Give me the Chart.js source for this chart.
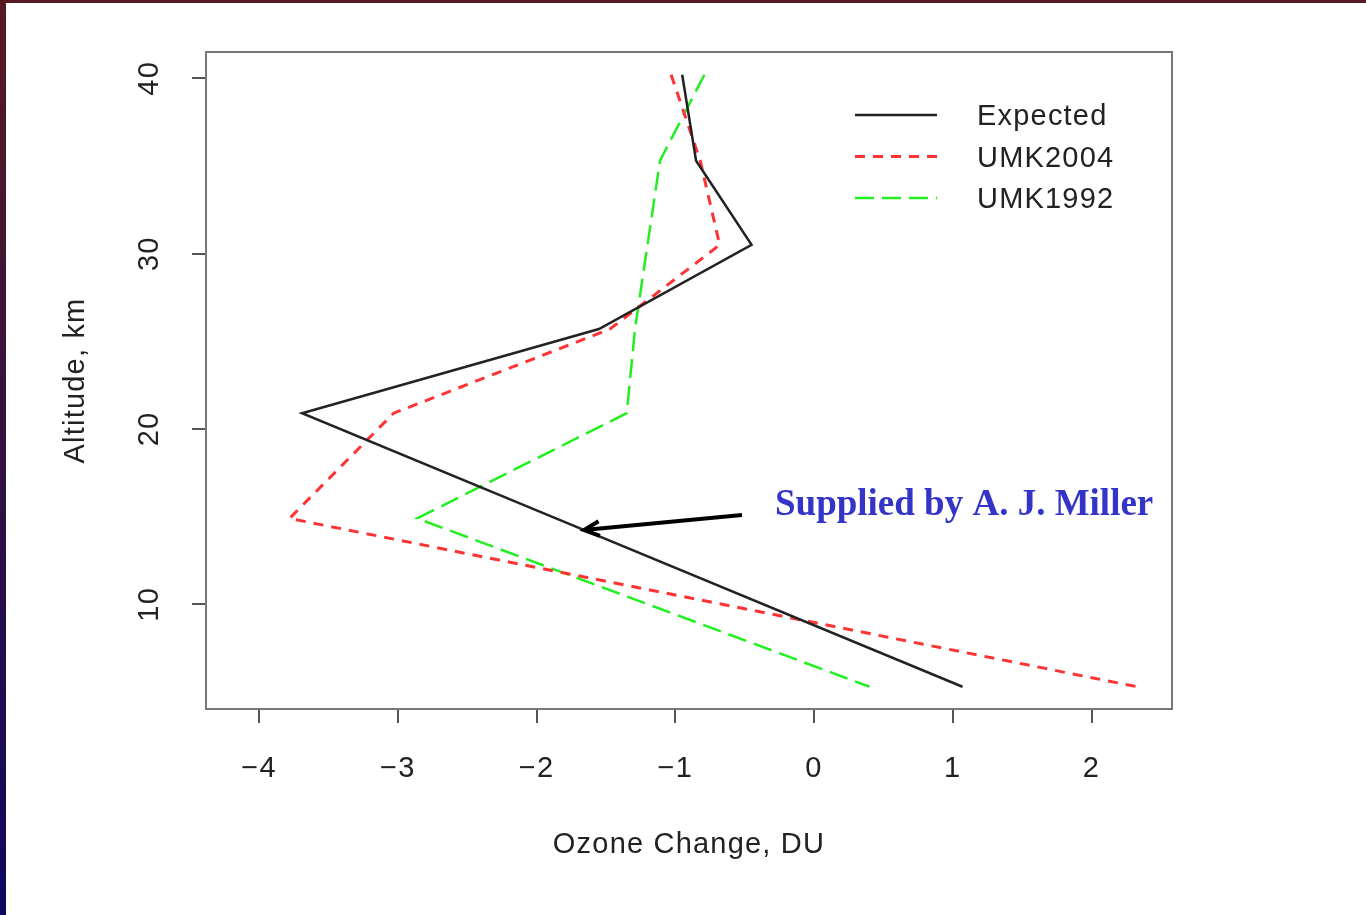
<!DOCTYPE html>
<html lang="en">
  <head>
    <meta charset="utf-8" />
    <title>Ozone change profile</title>
    <style>
      * {
        margin: 0;
        padding: 0;
      }
      body {
        width: 1366px;
        height: 915px;
        background: #fff;
        overflow: hidden;
        position: relative;
      }
      .leftBar {
        position: absolute;
        left: 0;
        top: 0;
        width: 6px;
        height: 915px;
        background: linear-gradient(#581a22, #0e0860);
        z-index: 2;
      }
      .topBar {
        position: absolute;
        left: 0;
        top: 0;
        width: 1366px;
        height: 3px;
        background: #561a20;
        z-index: 2;
      }
      .chartBox {
        position: absolute;
        left: 0;
        top: 0;
      }
    </style>
  </head>
  <body>
    <div class="leftBar"></div>
    <div class="topBar"></div>
    <div class="chartBox">
      <canvas id="myChart" width="1366" height="915"></canvas>
    </div>

    <script src="https://cdn.jsdelivr.net/npm/chart.js@4.4.0/dist/chart.umd.min.js"></script>

    <script>
      // data block
      const altitude = [40.2, 35.3, 30.5, 25.7, 20.9, 14.9, 5.3];
      const expected = [-0.95, -0.85, -0.45, -1.55, -3.69, -1.86, 1.07];
      const umk2004 = [-1.03, -0.82, -0.68, -1.47, -3.03, -3.78, 2.33];
      const umk1992 = [-0.79, -1.11, -1.2, -1.29, -1.35, -2.86, 0.4];
      const seriesNames = ["Expected", "UMK2004", "UMK1992"];
      const xTicks = [-4, -3, -2, -1, 0, 1, 2];
      const yTicks = [10, 20, 30, 40];
      const note = "Supplied by A. J. Miller";

      const toPoints = (vals) => vals.map((v, i) => ({ x: v, y: altitude[i] }));

      const FONT = "'Liberation Sans', Arial, sans-serif";
      const TEXT = "#222";

      const data = {
        datasets: [
          {
            label: seriesNames[0],
            data: toPoints(expected),
            borderColor: "#222",
            borderWidth: 2.5,
          },
          {
            label: seriesNames[1],
            data: toPoints(umk2004),
            borderColor: "#ff3333",
            borderWidth: 3,
            borderDash: [10, 8],
          },
          {
            label: seriesNames[2],
            data: toPoints(umk1992),
            borderColor: "#22ee22",
            borderWidth: 2.5,
            borderDash: [19, 8],
          },
        ],
      };

      // R draws its labels a bit looser than the canvas does
      const spacing = {
        id: "spacing",
        beforeDraw(chart) {
          chart.ctx.letterSpacing = "1.2px";
        },
      };

      // box, y labels, legend and the note
      const extras = {
        id: "extras",
        afterDraw(chart) {
          const { ctx, chartArea: a, scales } = chart;
          ctx.save();

          // frame
          ctx.strokeStyle = "#777";
          ctx.lineWidth = 2;
          ctx.strokeRect(a.left, a.top, a.right - a.left, a.bottom - a.top);

          // rotated y tick labels
          ctx.fillStyle = TEXT;
          ctx.font = "29px " + FONT;
          ctx.textAlign = "center";
          ctx.textBaseline = "middle";
          yTicks.forEach((t) => {
            const py = scales.y.getPixelForValue(t);
            ctx.save();
            ctx.translate(150, py);
            ctx.rotate(-Math.PI / 2);
            ctx.fillText(String(t), 0, 0);
            ctx.restore();
          });

          // legend
          chart.data.datasets.forEach((ds, i) => {
            const ly = 115 + i * 41.5;
            ctx.beginPath();
            ctx.setLineDash(ds.borderDash || []);
            ctx.strokeStyle = ds.borderColor;
            ctx.lineWidth = ds.borderWidth;
            ctx.moveTo(855, ly);
            ctx.lineTo(937, ly);
            ctx.stroke();
            ctx.setLineDash([]);
            ctx.textAlign = "left";
            ctx.fillText(ds.label, 977, ly + 2);
          });

          // note with arrow
          ctx.letterSpacing = "0px";
          ctx.fillStyle = "#3434c8";
          ctx.font = "bold 37px 'Liberation Serif', 'Times New Roman', serif";
          ctx.textAlign = "left";
          ctx.textBaseline = "alphabetic";
          ctx.fillText(note, 775, 515);

          const x0 = 742, y0 = 515, x1 = 584, y1 = 530;
          const ang = Math.atan2(y1 - y0, x1 - x0);
          ctx.strokeStyle = "#000";
          ctx.lineWidth = 4;
          ctx.beginPath();
          ctx.moveTo(x0, y0);
          ctx.lineTo(x1, y1);
          ctx.stroke();
          ctx.beginPath();
          ctx.moveTo(x1 + 17 * Math.cos(ang + Math.PI - 0.45), y1 + 17 * Math.sin(ang + Math.PI - 0.45));
          ctx.lineTo(x1, y1);
          ctx.lineTo(x1 + 17 * Math.cos(ang + Math.PI + 0.45), y1 + 17 * Math.sin(ang + Math.PI + 0.45));
          ctx.stroke();

          ctx.restore();
        },
      };

      // config block
      const config = {
        type: "scatter",
        data: data,
        options: {
          responsive: false,
          animation: false,
          showLine: true,
          layout: { padding: { top: 52, right: 194, bottom: 0, left: 0 } },
          elements: {
            point: { radius: 0, hoverRadius: 0 },
            line: { tension: 0, borderJoinStyle: "miter" },
          },
          plugins: {
            legend: { display: false },
            tooltip: { enabled: false },
          },
          scales: {
            x: {
              type: "linear",
              min: -4.382,
              max: 2.58,
              afterBuildTicks: (s) => {
                s.ticks = xTicks.map((v) => ({ value: v }));
              },
              afterFit: (s) => {
                s.height = 206;
              },
              ticks: {
                padding: 29,
                color: TEXT,
                font: { family: FONT, size: 29 },
                callback: (v) => (v < 0 ? "\u2212" + Math.abs(v) : String(v)),
              },
              grid: {
                drawOnChartArea: false,
                drawTicks: true,
                tickLength: 14,
                tickColor: "#555",
                lineWidth: 2,
              },
              border: { display: false },
              title: {
                display: true,
                text: "Ozone Change, DU",
                color: TEXT,
                font: { family: FONT, size: 29 },
                padding: { top: 0, bottom: 53 },
              },
            },
            y: {
              type: "linear",
              min: 4.03,
              max: 41.5,
              afterBuildTicks: (s) => {
                s.ticks = yTicks.map((v) => ({ value: v }));
              },
              afterFit: (s) => {
                s.width = 206;
              },
              ticks: { display: false },
              grid: {
                drawOnChartArea: false,
                drawTicks: true,
                tickLength: 14,
                tickColor: "#555",
                lineWidth: 2,
              },
              border: { display: false },
              title: {
                display: true,
                text: "Altitude, km",
                color: TEXT,
                font: { family: FONT, size: 29 },
                padding: { top: 59, bottom: 0 },
              },
            },
          },
        },
        plugins: [spacing, extras],
      };

      // init render block
      const myChart = new Chart(document.getElementById("myChart"), config);
    </script>
  </body>
</html>
